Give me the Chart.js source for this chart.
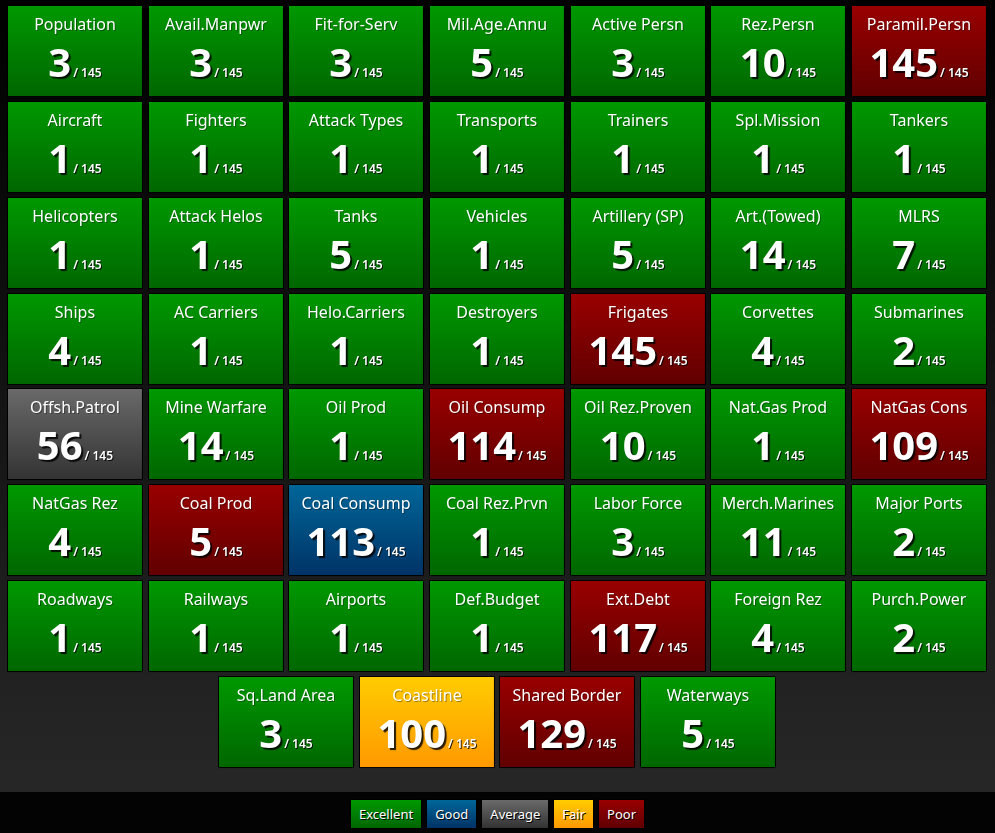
<!DOCTYPE html>
<html lang="en">
<head>
  <meta charset="UTF-8" />
  <title>Ranking tiles</title>
  <script src="https://cdn.jsdelivr.net/npm/chart.js"></script>
  <style>
    html, body {
      margin: 0;
      padding: 0;
      background: #000;
      font-family: "Noto Sans", Arial, sans-serif;
    }
    .board {
      width: 995px;
      height: 792px;
      background: linear-gradient(to bottom, #000 0px, #262626 770px, #262626 792px);
    }
    .legend {
      height: 41px;
      background: #030303;
      text-align: center;
      font-size: 13px;
      padding-top: 7px;
      box-sizing: border-box;
    }
    .legend span {
      display: inline-block;
      height: 30px;
      line-height: 29px;
      padding: 0 8px;
      margin: 0 2px;
      color: #fff;
      border: 1px solid #000;
      box-sizing: border-box;
      text-shadow: 1px 1px 0 #000;
    }
  </style>
</head>
<body>
  <div class="board"><canvas id="tiles" width="995" height="792"></canvas></div>
  <div class="legend" id="legend"></div>

  <script>
    const total = 145;

    const names = [
      'Population', 'Avail.Manpwr', 'Fit-for-Serv', 'Mil.Age.Annu', 'Active Persn', 'Rez.Persn', 'Paramil.Persn',
      'Aircraft', 'Fighters', 'Attack Types', 'Transports', 'Trainers', 'Spl.Mission', 'Tankers',
      'Helicopters', 'Attack Helos', 'Tanks', 'Vehicles', 'Artillery (SP)', 'Art.(Towed)', 'MLRS',
      'Ships', 'AC Carriers', 'Helo.Carriers', 'Destroyers', 'Frigates', 'Corvettes', 'Submarines',
      'Offsh.Patrol', 'Mine Warfare', 'Oil Prod', 'Oil Consump', 'Oil Rez.Proven', 'Nat.Gas Prod', 'NatGas Cons',
      'NatGas Rez', 'Coal Prod', 'Coal Consump', 'Coal Rez.Prvn', 'Labor Force', 'Merch.Marines', 'Major Ports',
      'Roadways', 'Railways', 'Airports', 'Def.Budget', 'Ext.Debt', 'Foreign Rez', 'Purch.Power',
      'Sq.Land Area', 'Coastline', 'Shared Border', 'Waterways'
    ];

    const ranks = [
      3, 3, 3, 5, 3, 10, 145,
      1, 1, 1, 1, 1, 1, 1,
      1, 1, 5, 1, 5, 14, 7,
      4, 1, 1, 1, 145, 4, 2,
      56, 14, 1, 114, 10, 1, 109,
      4, 5, 113, 1, 3, 11, 2,
      1, 1, 1, 1, 117, 4, 2,
      3, 100, 129, 5
    ];

    // E = Excellent, G = Good, A = Average, F = Fair, P = Poor
    const ratings = [
      'E', 'E', 'E', 'E', 'E', 'E', 'P',
      'E', 'E', 'E', 'E', 'E', 'E', 'E',
      'E', 'E', 'E', 'E', 'E', 'E', 'E',
      'E', 'E', 'E', 'E', 'P', 'E', 'E',
      'A', 'E', 'E', 'P', 'E', 'E', 'P',
      'E', 'P', 'G', 'E', 'E', 'E', 'E',
      'E', 'E', 'E', 'E', 'P', 'E', 'E',
      'E', 'F', 'P', 'E'
    ];

    const legendKeys = ['E', 'G', 'A', 'F', 'P'];
    const legendLabels = ['Excellent', 'Good', 'Average', 'Fair', 'Poor'];

    const palette = {
      E: ['#009900', '#006600'],
      G: ['#006699', '#003366'],
      A: ['#6a6a6a', '#333333'],
      F: ['#ffcc00', '#ff9900'],
      P: ['#990000', '#600000']
    };

    // 7 tiles per row, the last short row is centred
    const points = names.map((n, i) => {
      if (i < 49) return { x: i % 7, y: Math.floor(i / 7) };
      return { x: 1.5 + (i - 49), y: 7 };
    });

    const tilePlugin = {
      id: 'tilePlugin',
      afterDatasetsDraw(chart) {
        const ctx = chart.ctx;
        const xs = chart.scales.x, ys = chart.scales.y;
        const w = xs.getPixelForValue(0.967) - xs.getPixelForValue(0);
        const h = ys.getPixelForValue(0.96) - ys.getPixelForValue(0);
        const meta = chart.getDatasetMeta(0);
        meta.data.forEach((el, i) => {
          const left = Math.round(el.x - w / 2);
          const top = Math.round(el.y - h / 2);
          const cx = left + w / 2;
          const cols = palette[ratings[i]];
          ctx.save();
          ctx.fillStyle = '#000';
          ctx.fillRect(left, top, w, h);
          const g = ctx.createLinearGradient(0, top, 0, top + h);
          g.addColorStop(0, cols[0]);
          g.addColorStop(1, cols[1]);
          ctx.fillStyle = g;
          ctx.fillRect(left + 1, top + 1, w - 2, h - 2);

          ctx.fillStyle = '#fff';
          ctx.textAlign = 'center';
          ctx.textBaseline = 'middle';
          ctx.font = '16px "Noto Sans"';
          ctx.shadowColor = 'rgba(0,0,0,0.35)';
          ctx.shadowOffsetX = 1;
          ctx.shadowOffsetY = 1;
          ctx.fillText(names[i], cx, top + 20);

          const big = String(ranks[i]);
          const small = '/ ' + total;
          ctx.font = 'bold 40px "Noto Sans"';
          const bw = ctx.measureText(big).width;
          ctx.font = '600 12px "Noto Sans"';
          const sw = ctx.measureText(small).width;
          const x0 = cx - (bw + 2 + sw) / 2;
          ctx.textAlign = 'left';
          ctx.textBaseline = 'alphabetic';
          ctx.font = 'bold 40px "Noto Sans"';
          ctx.shadowColor = 'rgba(0,0,0,0.85)';
          ctx.shadowOffsetX = 2;
          ctx.shadowOffsetY = 2;
          ctx.shadowBlur = 1;
          ctx.fillText(big, x0, top + 72);
          ctx.font = '600 12px "Noto Sans"';
          ctx.shadowOffsetX = 1;
          ctx.shadowOffsetY = 1;
          ctx.shadowBlur = 0;
          ctx.fillText(small, x0 + bw + 2, top + 72);
          ctx.restore();
        });
      }
    };

    new Chart(document.getElementById('tiles'), {
      type: 'scatter',
      data: {
        datasets: [{
          data: points,
          pointRadius: 0,
          pointHoverRadius: 0
        }]
      },
      options: {
        responsive: false,
        animation: false,
        events: [],
        layout: { padding: { left: 5, right: 6, top: 3, bottom: 22 } },
        plugins: { legend: { display: false }, tooltip: { enabled: false } },
        scales: {
          x: { type: 'linear', min: -0.5, max: 6.5, display: false },
          y: { type: 'linear', min: -0.5, max: 7.5, reverse: true, display: false }
        }
      },
      plugins: [tilePlugin]
    });

    const legendBox = document.getElementById('legend');
    legendKeys.forEach((k, i) => {
      const s = document.createElement('span');
      s.textContent = legendLabels[i];
      s.style.background = 'linear-gradient(to bottom, ' + palette[k][0] + ', ' + palette[k][1] + ')';
      legendBox.appendChild(s);
    });
  </script>
</body>
</html>
